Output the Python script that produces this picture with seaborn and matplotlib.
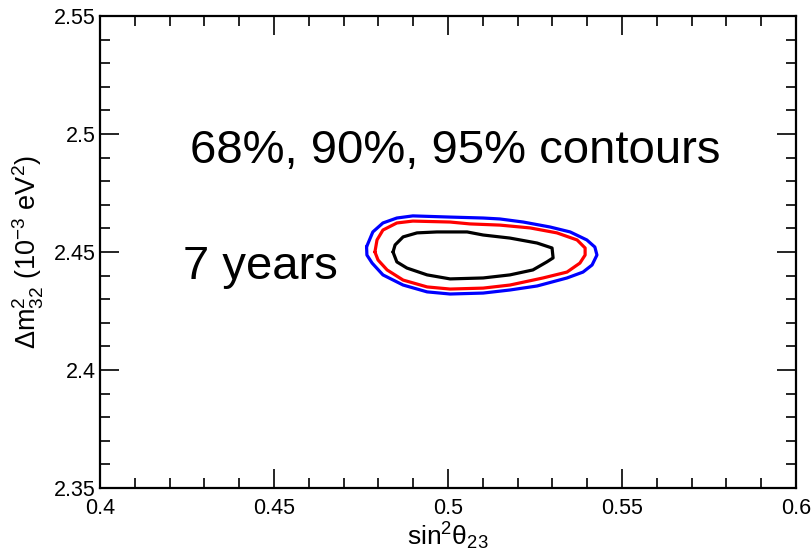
import numpy as np
import pandas as pd
import matplotlib
matplotlib.use("Agg")
import matplotlib.pyplot as plt
import seaborn as sns
from matplotlib.ticker import MultipleLocator, FormatStrFormatter

# 95% contour (blue)
x95 = [0.4766, 0.4784, 0.4813, 0.4853, 0.4899, 0.5006, 0.5101, 0.5149, 0.5216, 0.5293,
       0.5351, 0.5399, 0.5422, 0.5428, 0.5414, 0.5388, 0.5342, 0.5256, 0.5178, 0.5101,
       0.5006, 0.4940, 0.4871, 0.4813, 0.4782, 0.4767]
y95 = [2.4522, 2.4585, 2.4623, 2.4644, 2.4653, 2.4648, 2.4644, 2.4640, 2.4627, 2.4606,
       2.4585, 2.4551, 2.4521, 2.4487, 2.4445, 2.4415, 2.4390, 2.4356, 2.4339, 2.4326,
       2.4322, 2.4331, 2.4360, 2.4403, 2.4453, 2.4487]
# 90% contour (red)
x90 = [0.4790, 0.4796, 0.4813, 0.4853, 0.4899, 0.5006, 0.5063, 0.5149, 0.5236, 0.5313,
       0.5371, 0.5394, 0.5394, 0.5379, 0.5342, 0.5273, 0.5178, 0.5101, 0.5006, 0.4940,
       0.4871, 0.4825, 0.4799]
y90 = [2.4500, 2.4551, 2.4593, 2.4623, 2.4631, 2.4627, 2.4619, 2.4614, 2.4602, 2.4581,
       2.4551, 2.4517, 2.4487, 2.4453, 2.4415, 2.4390, 2.4360, 2.4347, 2.4343, 2.4352,
       2.4381, 2.4424, 2.4466]
# 68% contour (black)
x68 = [0.4842, 0.4848, 0.4871, 0.4911, 0.4968, 0.5055, 0.5101, 0.5178, 0.5256, 0.5299,
       0.5302, 0.5284, 0.5244, 0.5178, 0.5101, 0.5006, 0.4940, 0.4882, 0.4853]
y68 = [2.4500, 2.4530, 2.4564, 2.4581, 2.4585, 2.4585, 2.4572, 2.4559, 2.4538, 2.4517,
       2.4475, 2.4458, 2.4424, 2.4403, 2.4390, 2.4386, 2.4403, 2.4432, 2.4458]

xlim = (0.4, 0.6)
ylim = (2.35, 2.55)
title_text = "68%, 90%, 95% contours"
years_text = "7 years"

sns.set_style("ticks")
plt.rcParams['font.family'] = ['Liberation Sans', 'DejaVu Sans']
plt.rcParams['mathtext.fontset'] = 'custom'
plt.rcParams['mathtext.rm'] = 'Liberation Sans'
plt.rcParams['mathtext.it'] = 'Liberation Sans:italic'
plt.rcParams['mathtext.bf'] = 'Liberation Sans:bold'
for k in ['text.color', 'axes.labelcolor', 'xtick.color', 'ytick.color', 'axes.edgecolor']:
    plt.rcParams[k] = 'black'

fig = plt.figure(figsize=(8.12, 5.52), dpi=100)
ax = fig.add_axes([100/812, 64/552, 696/812, 472/552])

def closed(xs, ys):
    return pd.DataFrame({"x": list(xs) + [xs[0]], "y": list(ys) + [ys[0]],
                         "i": np.arange(len(xs) + 1)})

for xs, ys, col in [(x95, y95, "#0000ff"), (x90, y90, "#ff0000"), (x68, y68, "#000000")]:
    d = closed(xs, ys)
    sns.lineplot(data=d, x="x", y="y", sort=False, estimator=None, color=col, lw=2.3, ax=ax)

ax.set_xlim(*xlim)
ax.set_ylim(*ylim)
ax.xaxis.set_major_locator(MultipleLocator(0.05))
ax.xaxis.set_minor_locator(MultipleLocator(0.01))
ax.yaxis.set_major_locator(MultipleLocator(0.05))
ax.yaxis.set_minor_locator(MultipleLocator(0.01))
ax.xaxis.set_major_formatter(FormatStrFormatter('%g'))
ax.yaxis.set_major_formatter(FormatStrFormatter('%g'))
ax.tick_params(which='both', direction='in', top=True, right=True, width=1.2, labelsize=15.5)
ax.tick_params(which='major', length=14)
ax.tick_params(which='minor', length=7)
ax.tick_params(axis='x', pad=7)
ax.tick_params(axis='y', pad=3)
for s in ax.spines.values():
    s.set_linewidth(1.6)

ax.set_xlabel(r'$\mathregular{sin^{2}\theta_{23}}$', fontsize=19, labelpad=1)
ax.set_ylabel(r'$\mathregular{\Delta m^{2}_{32}}$ (10$^{\mathregular{-3}}$ eV$^{\mathregular{2}}$)',
              fontsize=19.5, labelpad=6)

ax.text(0.502, 2.4877, title_text, fontsize=34, ha='center', va='baseline')
ax.text(0.4239, 2.4386, years_text, fontsize=34, ha='left', va='baseline')

fig.savefig("out.png", dpi=100)
